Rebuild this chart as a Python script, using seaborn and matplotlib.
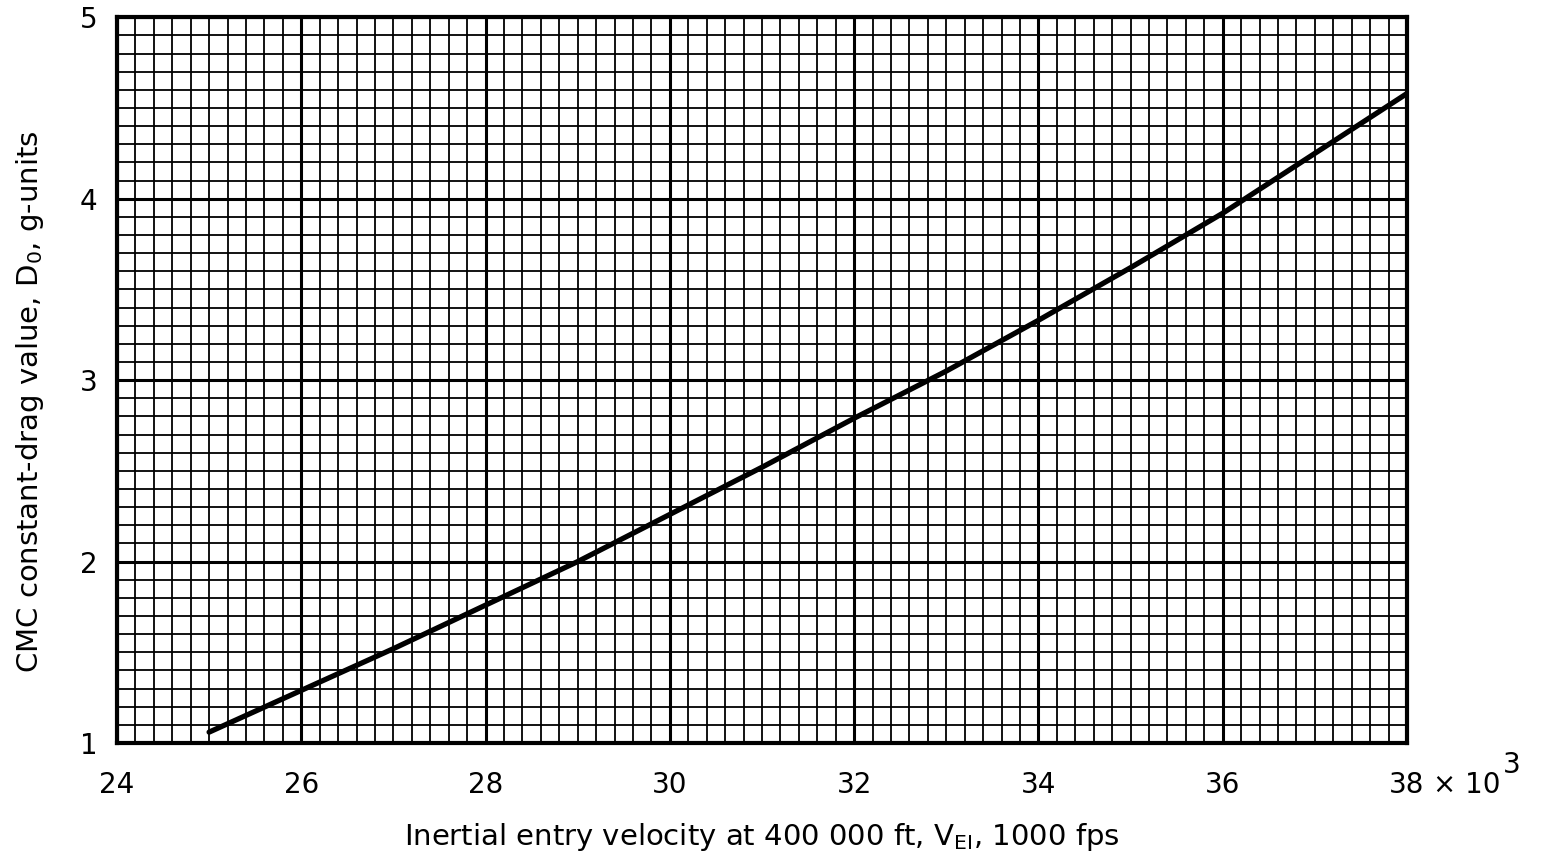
import matplotlib
matplotlib.use("Agg")
import matplotlib.pyplot as plt
import matplotlib.transforms as mtransforms
import seaborn as sns
import numpy as np
import pandas as pd
from matplotlib.ticker import MultipleLocator

# Entry velocity (1000 fps) and CMC constant-drag value D0 (g-units)
velocity = [25, 26, 27, 28, 29, 30, 31, 32, 33, 34, 35, 36, 37, 38]
drag_d0 = [1.06, 1.29, 1.52, 1.76, 2.00, 2.26, 2.52, 2.79, 3.05, 3.33, 3.62, 3.92, 4.25, 4.58]

x_ticks = [24, 26, 28, 30, 32, 34, 36, 38]
x_tick_labels = ["24", "26", "28", "30", "32", "34", "36", "38"]
y_ticks = [1, 2, 3, 4, 5]
y_tick_labels = ["1", "2", "3", "4", "5"]

sns.set_style("white")
plt.rcParams["font.family"] = ["DejaVu Sans"]
plt.rcParams["mathtext.fontset"] = "dejavusans"
for key in ("text.color", "axes.labelcolor", "xtick.color", "ytick.color"):
    plt.rcParams[key] = "black"

fig = plt.figure(figsize=(15.41, 8.67), dpi=100)
ax = fig.add_axes([0.0759, 0.143, 0.8371, 0.837])

df = pd.DataFrame({"velocity": velocity, "d0": drag_d0})
sns.lineplot(data=df, x="velocity", y="d0", ax=ax, color="black", linewidth=3.8, zorder=5)

ax.set_xlim(24, 38)
ax.set_ylim(1, 5)

# Graph-paper grid: heavy major lines, lighter minor lines
ax.set_xticks(x_ticks)
ax.set_xticklabels(x_tick_labels)
ax.set_yticks(y_ticks)
ax.set_yticklabels(y_tick_labels)
ax.xaxis.set_minor_locator(MultipleLocator(0.2))
ax.yaxis.set_minor_locator(MultipleLocator(0.1))
ax.grid(which="major", color="black", linewidth=2.2, zorder=1)
ax.grid(which="minor", color="black", linewidth=1.3, zorder=1)
ax.set_axisbelow(True)

for s in ax.spines.values():
    s.set_visible(True)
    s.set_color("black")
    s.set_linewidth(3.0)

xpad = 20
ax.tick_params(axis="both", which="both", length=0)
ax.tick_params(axis="x", pad=xpad, labelsize=20)
ax.tick_params(axis="y", pad=14, labelsize=20)

# multiplier written next to the last x tick, level with the tick labels
trans = mtransforms.blended_transform_factory(ax.transData, ax.transAxes)
ax.annotate("× 10", xy=(38, 0), xycoords=trans, xytext=(18.5, -xpad),
            textcoords="offset points", ha="left", va="top", fontsize=20,
            annotation_clip=False)
ax.annotate("3", xy=(38, 0), xycoords=trans, xytext=(69, -xpad + 14),
            textcoords="offset points", ha="left", va="top", fontsize=20,
            annotation_clip=False)

ax.set_xlabel("Inertial entry velocity at 400 000 ft, V$_{\\mathregular{EI}}$, 1000 fps",
              fontsize=21, labelpad=16)
ax.set_ylabel("CMC constant-drag value, D$_{\\mathregular{0}}$, g-units", fontsize=21)
ax.yaxis.set_label_coords(-0.055, 0.47)

fig.savefig("out.png", dpi=100, facecolor="white")
